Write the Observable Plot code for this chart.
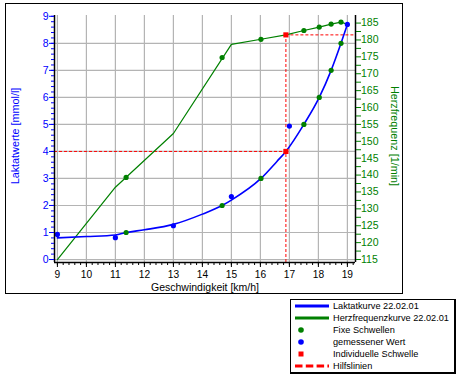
<!DOCTYPE html>
<html>
<head>
<meta charset="utf-8">
<script src="https://cdn.jsdelivr.net/npm/d3@7"></script>
<script src="https://cdn.jsdelivr.net/npm/@observablehq/plot@0.6"></script>
<style>
  html, body { margin: 0; padding: 0; background: #fff; }
  #wrap { position: relative; width: 462px; height: 378px; overflow: hidden; font-family: Arial, "Liberation Sans", sans-serif; }
  #chart { position: absolute; left: 0; top: 0; }
  #frame { position: absolute; left: 5px; top: 3px; width: 398px; height: 291px; box-sizing: border-box; border: 1px solid #000; pointer-events: none; }
  #legend { position: absolute; left: 290px; top: 299px; width: 166px; height: 75px; box-sizing: border-box;
            border-left: 1px solid #000; border-top: 1px solid #000; border-right: 2px solid #000; border-bottom: 2px solid #000;
            font-size: 9.2px; color: #000; }
  .row { position: absolute; left: 0; height: 12px; width: 160px; }
  .row svg { position: absolute; left: 0; top: 0; }
  .row span { position: absolute; left: 42px; top: 0; line-height: 12px; white-space: nowrap; }
</style>
</head>
<body>
<div id="wrap">
  <div id="chart"></div>
  <div id="frame"></div>
  <div id="legend"></div>
</div>
<script>
// ---- data ----
const measuredSpeed   = [9, 11, 13, 15, 17, 19];
const measuredLactate = [0.93, 0.81, 1.25, 2.33, 4.94, 8.70];

const lacCurveSpeed = [9, 10, 11, 11.37, 12, 13, 14, 14.68, 15, 16.02, 16.57, 16.88, 17.5, 18.03, 18.44, 18.78, 19];
const lacCurveValue = [0.80, 0.85, 0.91, 1.0, 1.10, 1.30, 1.68, 2.0, 2.2, 3.0, 3.63, 4.0, 5.0, 6.0, 7.0, 8.0, 8.7];

const hrLineSpeed = [9, 11, 13, 15, 16.02, 16.88, 17.5, 18.03, 18.44, 18.78, 19];
const hrLineValue = [115, 136.4, 152.3, 178.7, 180.2, 181.5, 182.8, 183.8, 184.7, 185.3, 184.6];

const fixedLactate = [1, 2, 3, 5, 6, 7, 8];
const fixedSpeed   = [11.37, 14.68, 16.02, 17.5, 18.03, 18.44, 18.78];
const fixedHR      = [139.3, 174.8, 180.2, 182.8, 183.8, 184.7, 185.3];

const indivSpeed = 16.88, indivLactate = 4, indivHR = 181.5;

const xTicks = [9, 10, 11, 12, 13, 14, 15, 16, 17, 18, 19];
const yTicks = [0, 1, 2, 3, 4, 5, 6, 7, 8, 9];
const yGrid  = [0, 1, 2, 3, 4, 5, 6, 7, 8];
const hrTicks = [115, 120, 125, 130, 135, 140, 145, 150, 155, 160, 165, 170, 175, 180, 185];
const hrMinor = [117.5, 122.5, 127.5, 132.5, 137.5, 142.5, 147.5, 152.5, 157.5, 162.5, 167.5, 172.5, 177.5, 182.5];
const xMinor = d3.range(9, 19.21, 0.2).map(v => +v.toFixed(1));
const yMinor = d3.range(0, 9.01, 0.2).map(v => +v.toFixed(1));

const legendLabels = ["Laktatkurve 22.02.01", "Herzfrequenzkurve 22.02.01", "Fixe Schwellen", "gemessener Wert", "Individuelle Schwelle", "Hilfslinien"];

const xDomain = [8.9, 19.28];
const yDomain = [-0.11, 9.03];

// HR axis (right) aligned to lactate axis: 115 at 0, 187 at 9
const hrToY = h => (h - 115) / 8;
const yToHr = y => Math.round(y * 8 + 115);

const BLUE = "#0000ff", GREEN = "#008000", RED = "#ff0000", GRID = "#b4b4b4";

const measured = measuredSpeed.map((s, i) => ({s, v: measuredLactate[i]}));
const lacCurve = lacCurveSpeed.map((s, i) => ({s, v: lacCurveValue[i]}));
const hrLine = hrLineSpeed.map((s, i) => ({s, v: hrToY(hrLineValue[i])}));
const fixedL = fixedSpeed.map((s, i) => ({s, v: fixedLactate[i]}));
const fixedH = fixedSpeed.map((s, i) => ({s, v: hrToY(fixedHR[i])}));
const indiv = [{s: indivSpeed, v: indivLactate}, {s: indivSpeed, v: hrToY(indivHR)}];

const chart = Plot.plot({
  width: 462, height: 295,
  marginLeft: 54, marginRight: 107, marginTop: 15, marginBottom: 33,
  x: {domain: xDomain},
  y: {domain: yDomain},
  style: {fontFamily: "Arial, 'Liberation Sans', sans-serif", fontSize: "10.5px", background: "transparent", overflow: "visible"},
  marks: [
    Plot.gridX(xTicks, {stroke: GRID, strokeOpacity: 1, strokeWidth: 1.2}),
    Plot.gridY(yGrid, {stroke: GRID, strokeOpacity: 1, strokeWidth: 1.2}),
    // helper lines
    Plot.ruleY([indivLactate], {x1: xDomain[0], x2: indivSpeed, stroke: RED, strokeDasharray: "3,2", strokeWidth: 1}),
    Plot.ruleX([indivSpeed], {y1: yDomain[0], y2: hrToY(indivHR), stroke: RED, strokeDasharray: "3,2", strokeWidth: 1}),
    Plot.ruleY([hrToY(indivHR)], {x1: indivSpeed, x2: xDomain[1], stroke: RED, strokeDasharray: "3,2", strokeWidth: 1}),
    // curves
    Plot.line(hrLine, {x: "s", y: "v", stroke: GREEN, strokeWidth: 1.2}),
    Plot.line(lacCurve, {x: "s", y: "v", stroke: BLUE, strokeWidth: 1.6, curve: "monotone-x"}),
    // points
    Plot.dot(fixedL, {x: "s", y: "v", fill: GREEN, r: 2.6}),
    Plot.dot(fixedH, {x: "s", y: "v", fill: GREEN, r: 2.6}),
    Plot.dot(measured, {x: "s", y: "v", fill: BLUE, r: 2.6}),
    Plot.dot(indiv, {x: "s", y: "v", fill: RED, symbol: "square", r: 2.9}),
    // axis lines
    Plot.ruleX([xDomain[0]], {stroke: "#000", strokeWidth: 1.5}),
    Plot.ruleX([xDomain[1]], {stroke: "#000", strokeWidth: 1.5}),
    Plot.ruleY([yDomain[0]], {stroke: "#000", strokeWidth: 1.5}),
    // axes
    Plot.axisX(xTicks, {anchor: "bottom", tickSize: 5, tickPadding: 3.5, color: "#000", label: null, fontSize: 10.2}),
    Plot.axisX(xMinor, {anchor: "bottom", tickSize: 3, tickFormat: () => "", color: "#000", label: null}),
    Plot.axisY(yTicks, {anchor: "left", tickSize: 5, tickPadding: 1, color: BLUE, label: null}),
    Plot.axisY(yMinor, {anchor: "left", tickSize: 3, tickFormat: () => "", color: BLUE, label: null}),
    Plot.axisY(hrTicks.map(hrToY), {anchor: "right", tickSize: 5, tickPadding: 0.5, color: GREEN, label: null, tickFormat: d => String(yToHr(d))}),
    Plot.axisY(hrMinor.map(hrToY), {anchor: "right", tickSize: 5, tickFormat: () => "", color: GREEN, label: null}),
    // titles
    Plot.text(["Laktatwerte [mmol/l]"], {text: d => d, frameAnchor: "left", textAnchor: "middle", lineAnchor: "middle", rotate: -90, dx: -39, dy: -3, fill: BLUE, fontSize: 10.8}),
    Plot.text(["Herzfrequenz [1/min]"], {text: d => d, frameAnchor: "right", textAnchor: "middle", lineAnchor: "middle", rotate: 90, dx: 39, dy: -3, fill: GREEN, fontSize: 10.8}),
    Plot.text(["Geschwindigkeit [km/h]"], {text: d => d, frameAnchor: "bottom", textAnchor: "middle", lineAnchor: "middle", dy: 25, fill: "#000", fontSize: 10.5})
  ]
});
document.getElementById("chart").appendChild(chart);

// legend
const legend = document.getElementById("legend");
const swatches = [
  '<line x1="4" x2="38" y1="6" y2="6" stroke="' + BLUE + '" stroke-width="3"/>',
  '<line x1="4" x2="38" y1="6" y2="6" stroke="' + GREEN + '" stroke-width="3"/>',
  '<circle cx="10" cy="6" r="2.8" fill="' + GREEN + '"/>',
  '<circle cx="10" cy="6" r="2.8" fill="' + BLUE + '"/>',
  '<rect x="7.5" y="3.5" width="5" height="5" fill="' + RED + '"/>',
  '<line x1="4" x2="38" y1="6" y2="6" stroke="' + RED + '" stroke-width="3" stroke-dasharray="7.5,3.3"/>'
];
legendLabels.forEach((lab, i) => {
  const row = document.createElement("div");
  row.className = "row";
  row.style.top = (12 * i) + "px";
  row.innerHTML = '<svg width="40" height="12">' + swatches[i] + '</svg><span>' + lab + '</span>';
  legend.appendChild(row);
});
</script>
</body>
</html>
